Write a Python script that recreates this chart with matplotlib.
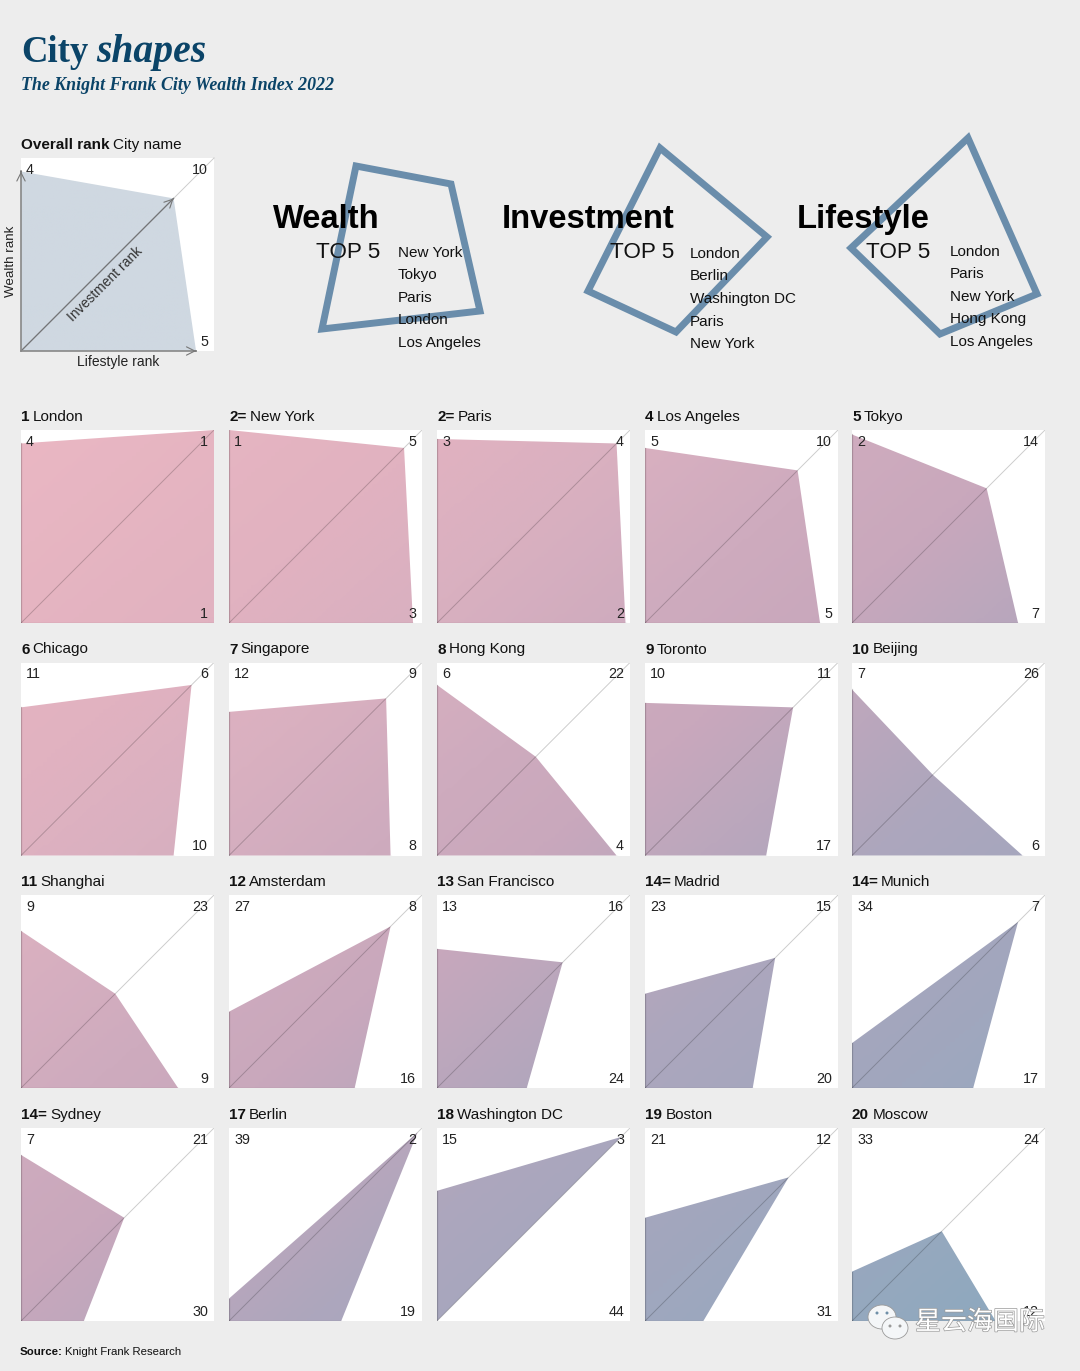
import matplotlib
matplotlib.use("Agg")
import matplotlib.pyplot as plt
import numpy as np
from matplotlib.colors import LinearSegmentedColormap, to_rgb
from matplotlib.patches import Polygon, Ellipse
import matplotlib.patheffects as pe

# ---------- data ----------
overall = ["1", "2=", "2=", "4", "5", "6", "7", "8", "9", "10",
           "11", "12", "13", "14=", "14=", "14=", "17", "18", "19", "20"]
cities = ["London", "New York", "Paris", "Los Angeles", "Tokyo",
          "Chicago", "Singapore", "Hong Kong", "Toronto", "Beijing",
          "Shanghai", "Amsterdam", "San Francisco", "Madrid", "Munich",
          "Sydney", "Berlin", "Washington DC", "Boston", "Moscow"]
wealth = [4, 1, 3, 5, 2, 11, 12, 6, 10, 7, 9, 27, 13, 23, 34, 7, 39, 15, 21, 33]
invest = [1, 5, 4, 10, 14, 6, 9, 22, 11, 26, 23, 8, 16, 15, 7, 21, 2, 3, 12, 24]
life = [1, 3, 2, 5, 7, 10, 8, 4, 17, 6, 9, 16, 24, 20, 17, 30, 19, 44, 31, 12]
legend_ranks = (4, 10, 5)

top_titles = ["Wealth", "Investment", "Lifestyle"]
top_lists = [["New York", "Tokyo", "Paris", "London", "Los Angeles"],
             ["London", "Berlin", "Washington DC", "Paris", "New York"],
             ["London", "Paris", "New York", "Hong Kong", "Los Angeles"]]
# outline shapes (pixels)
wealth_shape_x = [356, 451, 480, 322]
wealth_shape_y = [166, 184, 311, 329]
invest_shape_x = [660, 767, 676, 588]
invest_shape_y = [148, 237, 332, 291]
life_shape_x = [968, 1037, 940, 851]
life_shape_y = [138, 294, 334, 248]

# ---------- style ----------
BG = "#EDEDED"
NAVY = "#0B4468"
SHAPE = "#6A8DAB"
SANS = "Liberation Sans"
SERIF = "Liberation Serif"
W, H = 1080, 1371
RMAX, RMIN = 44, 1
PANEL = 193
col_x = [21, 229, 437, 645, 852]
row_y = [430, 662.5, 895, 1128]
LABEL = 11
NUM = 10.3

grad = LinearSegmentedColormap.from_list("g", [
    (0.00, "#EAB7C3"), (0.20, "#E1B2C0"), (0.30, "#D9B0C0"), (0.41, "#CEABBE"),
    (0.49, "#C9A8BC"), (0.65, "#ADA6BD"), (0.80, "#A0A7BE"), (1.00, "#8CA9BF")])

plt.rcParams["font.family"] = [SANS, "DejaVu Sans"]
fig = plt.figure(figsize=(W / 100, H / 100), dpi=100, facecolor=BG)

def axes_px(x, y, w, h, **kw):
    return fig.add_axes([x / W, 1 - (y + h) / H, w / W, h / H], **kw)

ov = axes_px(0, 0, W, H, zorder=5)
ov.set_xlim(0, W); ov.set_ylim(H, 0); ov.axis("off"); ov.patch.set_alpha(0)

def rich(x, y, bold, rest, size, color="#111111"):
    t = ov.text(x, y, bold, fontsize=size, fontweight="bold", color=color, va="baseline", ha="left")
    r = fig.canvas.get_renderer()
    w = t.get_window_extent(r).width
    ov.text(x + w + size * 0.3, y, rest, fontsize=size, color=color, va="baseline", ha="left")

def panel(x, y, W_r, I_r, L_r, colour_fn):
    ax = axes_px(x, y, PANEL, PANEL, zorder=2)
    ax.set_facecolor("white")
    for s in ax.spines.values():
        s.set_visible(False)
    ax.set_xticks([]); ax.set_yticks([])
    verts = [(RMAX, RMAX), (RMAX, W_r), (I_r, I_r), (L_r, RMAX)]
    img = colour_fn(x, y)
    im = ax.imshow(img, extent=(RMAX, RMIN, RMAX, RMIN), aspect="auto", interpolation="bilinear", zorder=1)
    poly = Polygon(verts, closed=True, transform=ax.transData, fc="none", ec="none")
    ax.add_patch(poly)
    im.set_clip_path(poly)
    ax.set_xlim(RMAX, RMIN); ax.set_ylim(RMAX, RMIN)
    return ax

def global_grad(x, y):
    u = np.linspace(x, x + PANEL, 48)
    v = np.linspace(y, y + PANEL, 48)
    uu, vv = np.meshgrid(u, v)
    t = np.clip((uu + 1.2 * vv - 536) / (2624 - 536), 0, 1)
    return grad(t)

def flat(x, y):
    c = np.array(to_rgb("#CFD8E1") + (1,))
    return np.tile(c, (2, 2, 1))

# ---------- titles ----------
t = ov.text(21, 62, "City", fontsize=26.5, fontweight="bold", family=SERIF, color=NAVY, va="baseline")
r = fig.canvas.get_renderer()
ov.text(21 + t.get_window_extent(r).width + 8, 62, "shapes", fontsize=28.5, fontstyle="italic",
        fontweight="bold", family=SERIF, color=NAVY, va="baseline")
ov.text(21, 90, "The Knight Frank City Wealth Index 2022", fontsize=12.9, fontstyle="italic",
        fontweight="bold", family=SERIF, color=NAVY, va="baseline")

# ---------- legend panel ----------
rich(21, 149, "Overall rank", "City name", LABEL)
lg = panel(21, 158, legend_ranks[0], legend_ranks[1], legend_ranks[2], flat)
lg.plot([RMAX, RMIN], [RMAX, RMIN], color="#000000", alpha=0.2, lw=0.7, zorder=3, clip_on=False)
lg.plot([RMAX, legend_ranks[1]], [RMAX, legend_ranks[1]], color="#666666", alpha=0.8, lw=0.9, zorder=4)
lg.plot([RMAX, RMAX], [RMAX, legend_ranks[0]], color="#888888", lw=1.2, zorder=4, clip_on=False)
lg.plot([RMAX, legend_ranks[2]], [RMAX, RMAX], color="#888888", lw=1.2, zorder=4, clip_on=False)
for tip, back in [((RMAX, legend_ranks[0]), (0, -1)), ((legend_ranks[2], RMAX), (-1, 0)),
                  ((legend_ranks[1], legend_ranks[1]), (-1, -1))]:
    lg.annotate("", xy=tip, xytext=(tip[0] + back[0] * -0.01, tip[1] + back[1] * -0.01),
                arrowprops=dict(arrowstyle="->", color="#777777", lw=0.8, mutation_scale=15, shrinkA=0, shrinkB=0),
                zorder=5, annotation_clip=False)
NUMC = "#222222"
ov.text(30, 174, str(legend_ranks[0]), fontsize=NUM, ha="center", va="baseline", color=NUMC)
ov.text(208, 174, str(legend_ranks[1]), fontsize=NUM, ha="right", va="baseline", color=NUMC)
ov.text(208, 346, str(legend_ranks[2]), fontsize=NUM, ha="right", va="baseline", color=NUMC)
ov.text(11, 261, "Wealth rank", fontsize=9.6, rotation=90, ha="center", va="center", color=NUMC)
ov.text(118, 366, "Lifestyle rank", fontsize=10, ha="center", va="baseline", color=NUMC)
ov.text(105, 284, "Investment rank", fontsize=10, rotation=45, ha="center", va="center", color="#333333",
        rotation_mode="anchor")

# ---------- top-5 block ----------
for sx, sy in [(wealth_shape_x, wealth_shape_y), (invest_shape_x, invest_shape_y), (life_shape_x, life_shape_y)]:
    ov.add_patch(Polygon(list(zip(sx, sy)), closed=True, fc="none", ec=SHAPE, lw=5.0, joinstyle="miter", zorder=1))

head_x = [380, 674, 930]
list_x = [398, 690, 950]
list_y0 = [257, 258, 256]
for i in range(3):
    ov.text(head_x[i], 228, top_titles[i], fontsize=23.6, fontweight="bold", ha="right", va="baseline",
            color="black", zorder=3)
    ov.text(head_x[i], 258, "TOP 5", fontsize=16.2, ha="right", va="baseline", color="#111111", zorder=3)
    for j, name in enumerate(top_lists[i]):
        ov.text(list_x[i], list_y0[i] + j * 22.5, name, fontsize=LABEL, ha="left", va="baseline",
                color="#111111", zorder=3)

# ---------- city panels ----------
for i, city in enumerate(cities):
    col, row = i % 5, i // 5
    x, y = col_x[col], row_y[row]
    ax = panel(x, y, wealth[i], invest[i], life[i], global_grad)
    ax.plot([RMAX, RMIN], [RMAX, RMIN], color="#000000", alpha=0.2, lw=0.7, zorder=3)
    ax.plot([RMAX, RMAX], [RMAX, wealth[i]], color="#000000", alpha=0.18, lw=0.9, zorder=3)
    ax.plot([RMAX, life[i]], [RMAX, RMAX], color="#000000", alpha=0.18, lw=0.9, zorder=3)
    rich(x, y - 9, overall[i], city, LABEL)
    ov.text(x + 5, y + 16, str(wealth[i]), fontsize=NUM, ha="left", va="baseline", color=NUMC)
    ov.text(x + 187, y + 16, str(invest[i]), fontsize=NUM, ha="right", va="baseline", color=NUMC)
    ov.text(x + 187, y + 188, str(life[i]), fontsize=NUM, ha="right", va="baseline", color=NUMC)

# ---------- source ----------
rich(20, 1355, "Source:", "Knight Frank Research", 8.2)

# ---------- watermark ----------
for cx, cy, w_, h_ in [(882, 1317, 28, 24), (895, 1328, 26, 22)]:
    ov.add_patch(Ellipse((cx, cy), w_, h_, fc="#F4F6F8", ec="#9a9a9a", lw=0.6, zorder=6))
for cx, cy, c in [(877, 1313, "#6f8fa8"), (887, 1313, "#6f8fa8"), (890, 1326, "#999999"), (900, 1326, "#999999")]:
    ov.add_patch(Ellipse((cx, cy), 3, 3, fc=c, ec="none", zorder=7))
ov.text(980, 1322, "星云海国际", family=["Noto Sans CJK SC", "DejaVu Sans"], fontsize=18.7, ha="center",
        va="center", color="white", zorder=6,
        path_effects=[pe.withStroke(linewidth=1.0, foreground="#9a9a9a")])

fig.savefig("out.png", dpi=100, facecolor=BG)
